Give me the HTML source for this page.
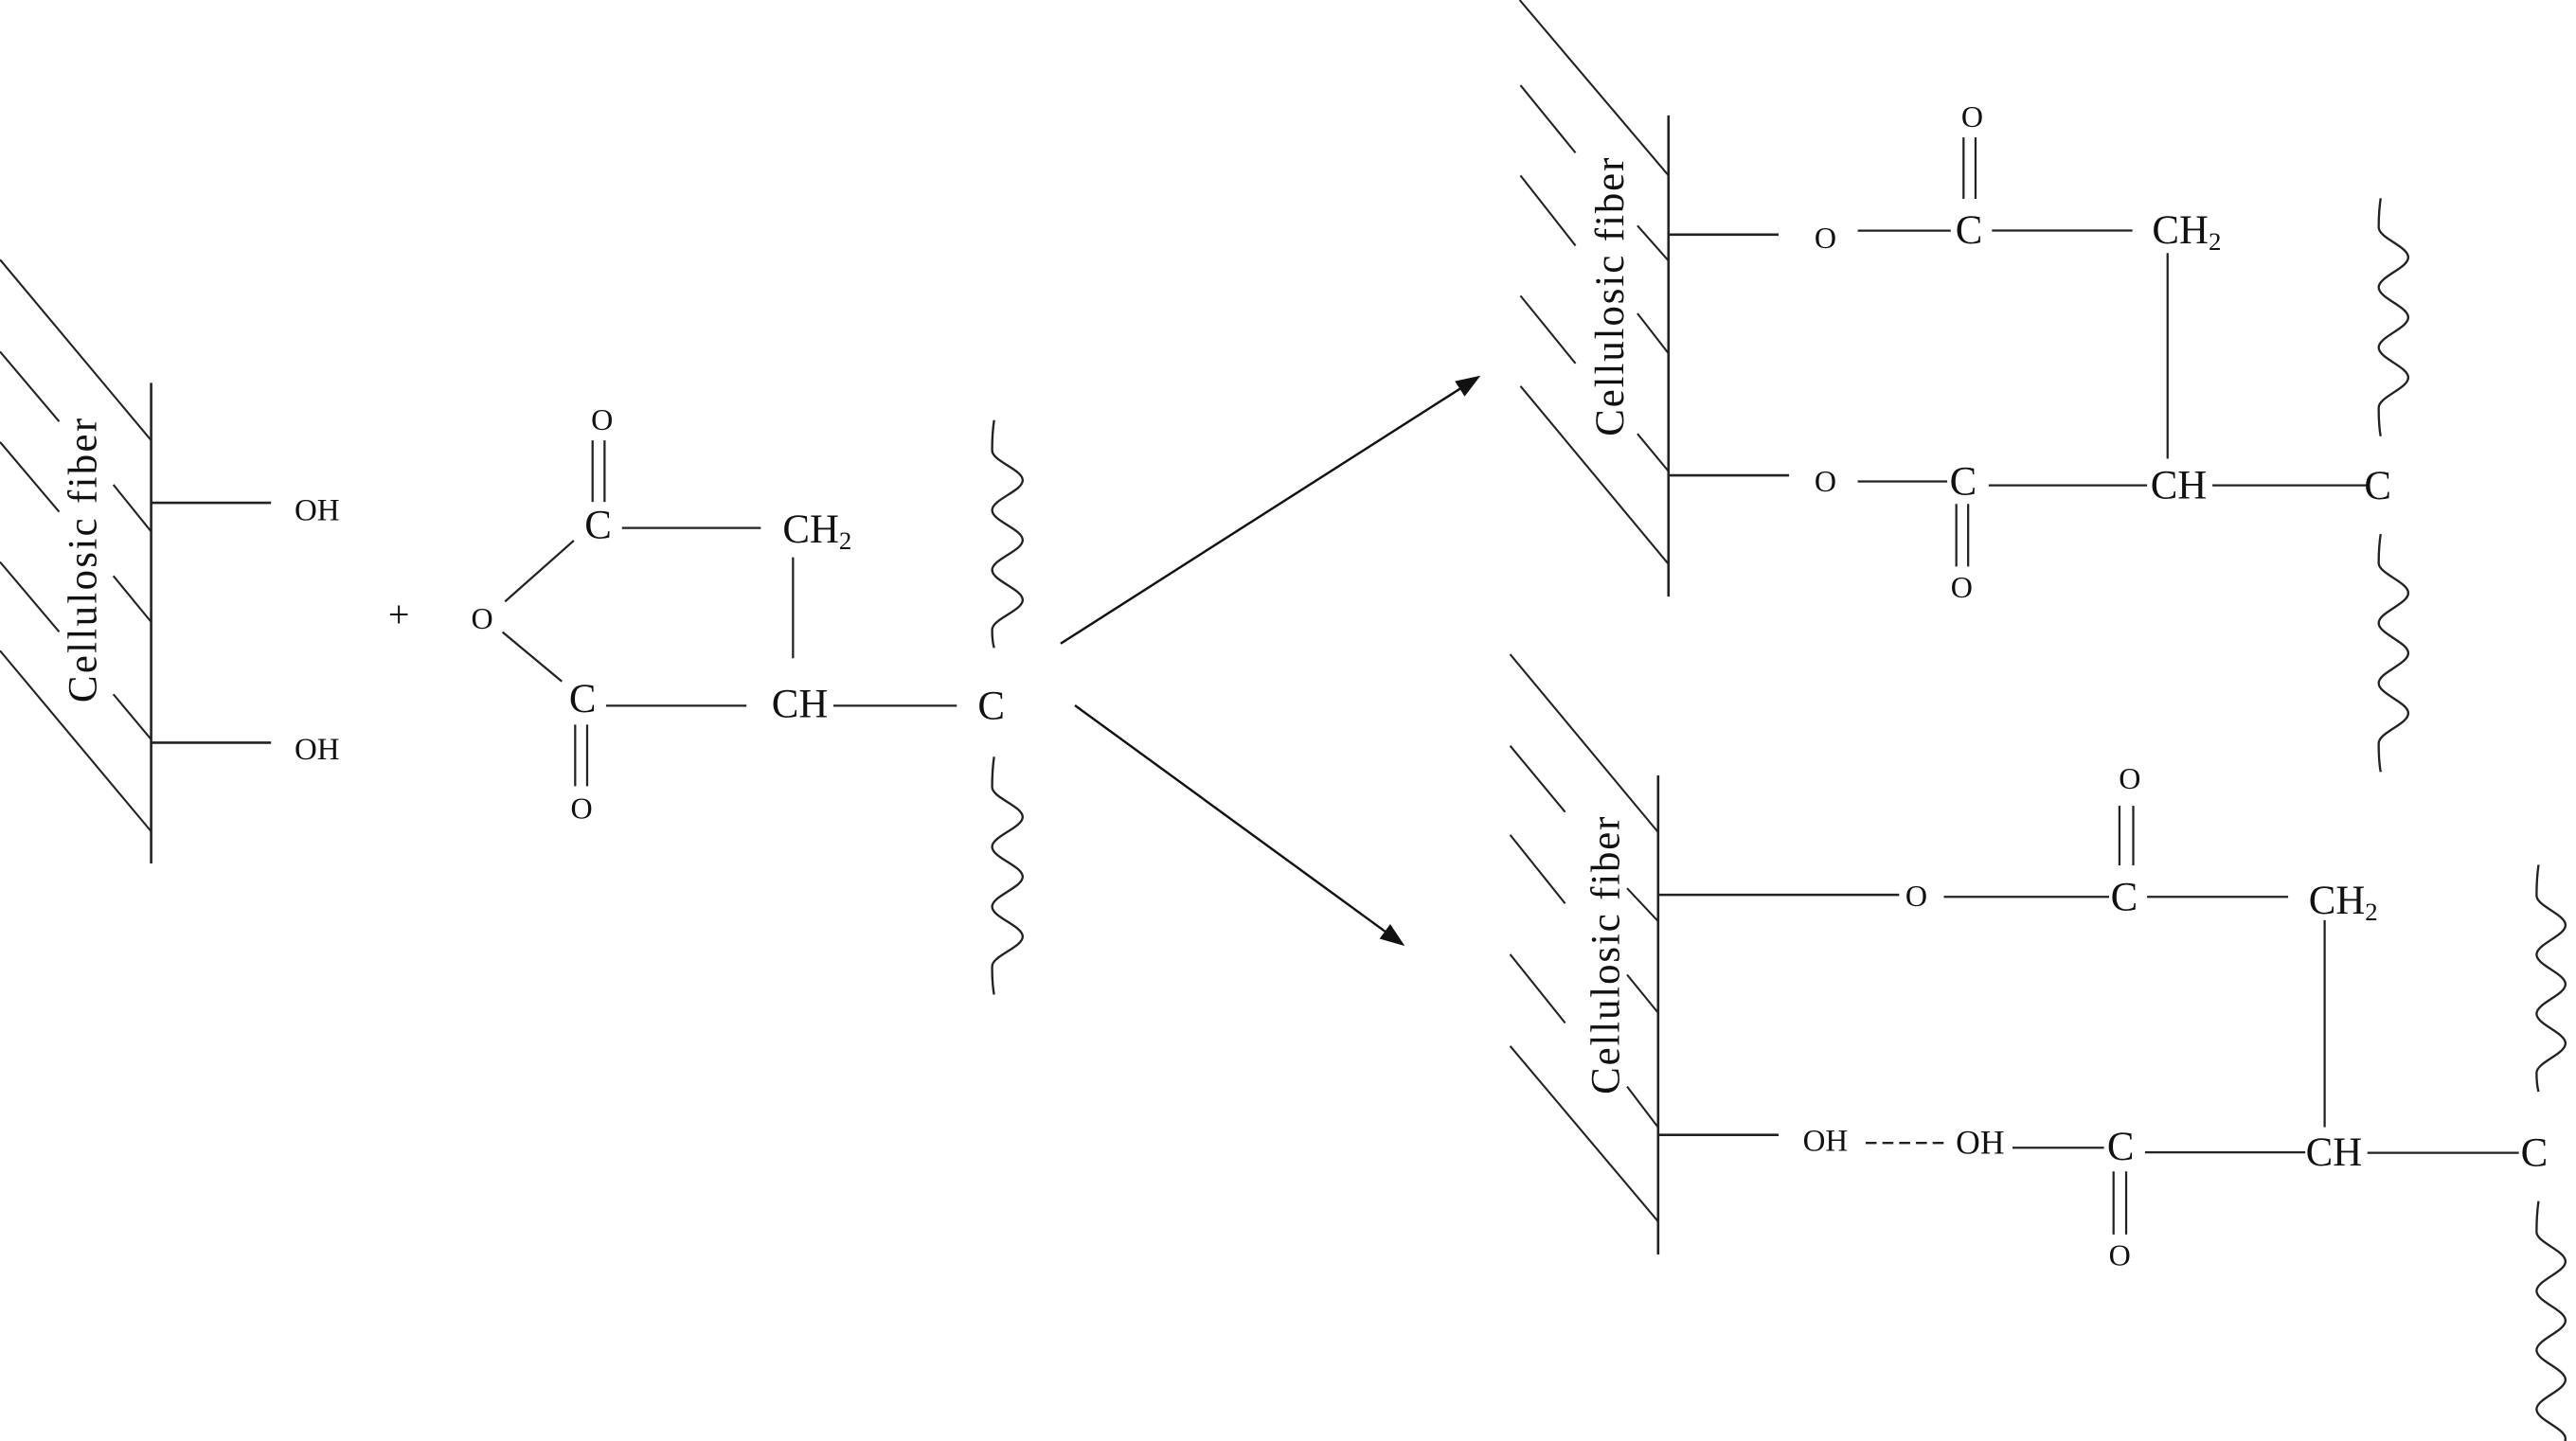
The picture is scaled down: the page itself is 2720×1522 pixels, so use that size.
<!DOCTYPE html>
<html>
<head>
<meta charset="utf-8">
<style>
  html, body { margin: 0; padding: 0; background: #ffffff; }
  body { width: 2720px; height: 1522px; overflow: hidden; }
  svg { display: block; }
  text { font-family: "Liberation Serif", "Times New Roman", serif; fill: #111; }
</style>
</head>
<body>
<svg width="2720" height="1522" viewBox="0 0 1568 877" preserveAspectRatio="none" xmlns="http://www.w3.org/2000/svg">
  <rect x="0" y="0" width="1568" height="877" fill="#ffffff"/>

  <!-- ================= LEFT: cellulosic fiber with OH ================= -->
  <g stroke="#222" stroke-width="1.2" fill="none" stroke-linecap="butt">
    <line x1="0" y1="158" x2="92" y2="268"/>
    <line x1="0" y1="214" x2="36" y2="256.5"/>
    <line x1="69" y1="295" x2="92" y2="323.5"/>
    <line x1="0" y1="269" x2="36" y2="311.5"/>
    <line x1="69" y1="350.5" x2="92" y2="378.5"/>
    <line x1="0" y1="342" x2="36" y2="384.5"/>
    <line x1="69" y1="422.5" x2="92" y2="450"/>
    <line x1="0" y1="396" x2="92" y2="506"/>
  </g>
  <g stroke="#222" stroke-width="1.5" fill="none">
    <line x1="92" y1="233" x2="92" y2="525.5"/>
    <line x1="92" y1="306" x2="165" y2="306"/>
    <line x1="92" y1="452" x2="165" y2="452"/>
  </g>
  <text transform="translate(58.6,427.6) rotate(-90)" font-size="24.7" textLength="173" lengthAdjust="spacing">Cellulosic fiber</text>
  <text x="193" y="316.6" font-size="19" text-anchor="middle">OH</text>
  <text x="193" y="462.2" font-size="19" text-anchor="middle">OH</text>

  <text x="242.8" y="381.7" font-size="23" text-anchor="middle">+</text>

  <!-- ================= Anhydride ================= -->
  <g stroke="#222" stroke-width="1.3" fill="none">
    <line x1="360.7" y1="268" x2="360.7" y2="305.5"/>
    <line x1="368" y1="268" x2="368" y2="305.5"/>
    <line x1="378.6" y1="321.3" x2="463.1" y2="321.3"/>
    <line x1="482.7" y1="339.2" x2="482.7" y2="400.6"/>
    <line x1="307.4" y1="366.1" x2="349.3" y2="329"/>
    <line x1="305.9" y1="384.7" x2="342" y2="414.7"/>
    <line x1="368.9" y1="429.5" x2="454.4" y2="429.5"/>
    <line x1="350.1" y1="441" x2="350.1" y2="478.5"/>
    <line x1="357.4" y1="441" x2="357.4" y2="478.5"/>
    <line x1="507.3" y1="429.5" x2="582.4" y2="429.5"/>
  </g>
  <text x="366.5" y="261.5" font-size="18.5" text-anchor="middle">O</text>
  <text x="364.1" y="327.6" font-size="24.7" text-anchor="middle">C</text>
  <text x="476.4" y="330.1" font-size="24.7">CH<tspan font-size="15.5" dy="4">2</tspan></text>
  <text x="293.5" y="382.7" font-size="18.5" text-anchor="middle">O</text>
  <text x="354.6" y="433.3" font-size="24.7" text-anchor="middle">C</text>
  <text x="354" y="498" font-size="18.5" text-anchor="middle">O</text>
  <text x="469.7" y="436.6" font-size="24.7">CH</text>
  <text x="603.4" y="437.7" font-size="24.7" text-anchor="middle">C</text>

  <g stroke="#222" stroke-width="1.35" fill="none">
    <path d="M605.1,255.7 c-0.8,5.5 -1.2,10 -1.2,18.4 c0,6.6 18.6,11.6 18.6,18.2 s-18.6,11.6 -18.6,18.2 s18.6,11.6 18.6,18.2 s-18.6,11.6 -18.6,18.2 s18.6,11.6 18.6,18.2 s-18.6,11.6 -18.6,18.2 c0,5 0.4,8.2 1.2,11"/>
    <path d="M605.1,460.6 c-0.8,5.5 -1.2,10 -1.2,18.4 c0,6.6 18.6,11.6 18.6,18.2 s-18.6,11.6 -18.6,18.2 s18.6,11.6 18.6,18.2 s-18.6,11.6 -18.6,18.2 s18.6,11.6 18.6,18.2 s-18.6,11.6 -18.6,18.2 c0,7.7 0.4,12.8 1.2,17.1"/>
  </g>

  <!-- ================= Arrows ================= -->
  <g stroke="#111" stroke-width="1.4" fill="none">
    <line x1="645.6" y1="391.7" x2="889.5" y2="236.1"/>
    <line x1="654.3" y1="429.3" x2="843.8" y2="567.4"/>
  </g>
  <polygon points="901.2,228.6 891.51,241.31 885.59,232.03" fill="#111"/>
  <polygon points="855.1,575.7 839.74,571.3 846.22,562.42" fill="#111"/>

  <!-- ================= TOP-RIGHT product ================= -->
  <g stroke="#222" stroke-width="1.2" fill="none">
    <line x1="925" y1="0" x2="1015.6" y2="106.8"/>
    <line x1="925.5" y1="51.9" x2="959" y2="93"/>
    <line x1="996.7" y1="137.3" x2="1015.6" y2="158.7"/>
    <line x1="925.5" y1="106.8" x2="959" y2="149.5"/>
    <line x1="996.7" y1="190.7" x2="1015.6" y2="215.1"/>
    <line x1="925.5" y1="180" x2="959" y2="221.2"/>
    <line x1="996.7" y1="264" x2="1015.6" y2="286.8"/>
    <line x1="925.5" y1="235" x2="1015.6" y2="343.3"/>
  </g>
  <g stroke="#222" stroke-width="1.5" fill="none">
    <line x1="1015.6" y1="70.2" x2="1015.6" y2="363.1"/>
    <line x1="1015.6" y1="142.8" x2="1082.6" y2="142.8"/>
    <line x1="1015.6" y1="289.3" x2="1089" y2="289.3"/>
  </g>
  <g stroke="#222" stroke-width="1.3" fill="none">
    <line x1="1130.8" y1="140.4" x2="1187.4" y2="140.4"/>
    <line x1="1195.2" y1="83.6" x2="1195.2" y2="121"/>
    <line x1="1202.5" y1="83.6" x2="1202.5" y2="121"/>
    <line x1="1212.5" y1="140.3" x2="1298" y2="140.3"/>
    <line x1="1319.4" y1="154" x2="1319.4" y2="279.2"/>
    <line x1="1130.8" y1="293" x2="1185.3" y2="293"/>
    <line x1="1190.8" y1="306.7" x2="1190.8" y2="344.8"/>
    <line x1="1198" y1="306.7" x2="1198" y2="344.8"/>
    <line x1="1210.5" y1="295.4" x2="1306.9" y2="295.4"/>
    <line x1="1346.7" y1="295.4" x2="1441" y2="295.4"/>
  </g>
  <text transform="translate(988,265.5) rotate(-90)" font-size="24.7" textLength="169.5" lengthAdjust="spacing">Cellulosic fiber</text>
  <text x="1111.1" y="151" font-size="18.5" text-anchor="middle">O</text>
  <text x="1198.5" y="148" font-size="24.7" text-anchor="middle">C</text>
  <text x="1200.5" y="77.2" font-size="18.5" text-anchor="middle">O</text>
  <text x="1310" y="148" font-size="24.7">CH<tspan font-size="15.5" dy="4">2</tspan></text>
  <text x="1111.1" y="299" font-size="18.5" text-anchor="middle">O</text>
  <text x="1195" y="301" font-size="24.7" text-anchor="middle">C</text>
  <text x="1194.1" y="363.7" font-size="18.5" text-anchor="middle">O</text>
  <text x="1309" y="303.5" font-size="24.7">CH</text>
  <text x="1447.3" y="303.6" font-size="24.7" text-anchor="middle">C</text>
  <g stroke="#222" stroke-width="1.35" fill="none">
    <path d="M1449.1,120.7 c-0.8,5.3 -1.2,9.7 -1.2,17.6 c0,6.64 18,11.66 18,18.3 s-18,11.66 -18,18.3 s18,11.66 18,18.3 s-18,11.66 -18,18.3 s18,11.66 18,18.3 s-18,11.66 -18,18.3 c0,7.8 0.4,13 1.2,17.4"/>
    <path d="M1449.1,325 c-0.8,5.3 -1.2,9.7 -1.2,17.6 c0,6.64 18,11.66 18,18.3 s-18,11.66 -18,18.3 s18,11.66 18,18.3 s-18,11.66 -18,18.3 s18,11.66 18,18.3 s-18,11.66 -18,18.3 c0,7.8 0.4,13 1.2,17.4"/>
  </g>

  <!-- ================= BOTTOM-RIGHT product ================= -->
  <g stroke="#222" stroke-width="1.2" fill="none">
    <line x1="919.2" y1="398.2" x2="1009.3" y2="506.5"/>
    <line x1="919.2" y1="453.9" x2="952.7" y2="494.2"/>
    <line x1="990.4" y1="540.6" x2="1009.3" y2="560.7"/>
    <line x1="919.2" y1="508.1" x2="952.7" y2="549.9"/>
    <line x1="990.4" y1="593.2" x2="1009.3" y2="616.4"/>
    <line x1="919.2" y1="580.8" x2="952.7" y2="622.6"/>
    <line x1="990.4" y1="661.3" x2="1009.3" y2="686.1"/>
    <line x1="919.2" y1="636.6" x2="1009.3" y2="743.4"/>
  </g>
  <g stroke="#222" stroke-width="1.5" fill="none">
    <line x1="1009.3" y1="471.9" x2="1009.3" y2="763.5"/>
    <line x1="1009.3" y1="544.6" x2="1156" y2="544.6"/>
    <line x1="1009.3" y1="690.7" x2="1082.6" y2="690.7"/>
  </g>
  <g stroke="#222" stroke-width="1.3" fill="none">
    <line x1="1183.2" y1="545.8" x2="1283.8" y2="545.8"/>
    <line x1="1290.1" y1="490.4" x2="1290.1" y2="526.7"/>
    <line x1="1298.5" y1="490.4" x2="1298.5" y2="526.7"/>
    <line x1="1306.9" y1="545.8" x2="1392.8" y2="545.8"/>
    <line x1="1415" y1="560" x2="1415" y2="686"/>
    <line x1="1135.6" y1="695.6" x2="1183.1" y2="695.6" stroke-dasharray="6.7 3.5"/>
    <line x1="1225" y1="698.5" x2="1280.7" y2="698.5"/>
    <line x1="1286.5" y1="712.9" x2="1286.5" y2="751.3"/>
    <line x1="1294.2" y1="712.9" x2="1294.2" y2="751.3"/>
    <line x1="1305.7" y1="701.3" x2="1403.2" y2="701.3"/>
    <line x1="1441" y1="701.6" x2="1533.2" y2="701.6"/>
  </g>
  <text transform="translate(985.5,666) rotate(-90)" font-size="24.7" textLength="169" lengthAdjust="spacing">Cellulosic fiber</text>
  <text x="1166.5" y="551.3" font-size="18.5" text-anchor="middle">O</text>
  <text x="1293" y="554" font-size="24.7" text-anchor="middle">C</text>
  <text x="1296.4" y="480" font-size="18.5" text-anchor="middle">O</text>
  <text x="1405.3" y="556" font-size="24.7">CH<tspan font-size="15.5" dy="4">2</tspan></text>
  <text x="1111.1" y="700.4" font-size="19" text-anchor="middle">OH</text>
  <text x="1205.3" y="702.1" font-size="20.5" text-anchor="middle">OH</text>
  <text x="1290.8" y="705.8" font-size="24.7" text-anchor="middle">C</text>
  <text x="1290.3" y="770" font-size="18.5" text-anchor="middle">O</text>
  <text x="1403.5" y="709.3" font-size="24.7">CH</text>
  <text x="1542.6" y="709.5" font-size="24.7" text-anchor="middle">C</text>
  <g stroke="#222" stroke-width="1.35" fill="none">
    <path d="M1545.2,526.3 c-0.8,5.6 -1.2,10.3 -1.2,18.7 c0,6.53 17.6,11.47 17.6,18 s-17.6,11.47 -17.6,18 s17.6,11.47 17.6,18 s-17.6,11.47 -17.6,18 s17.6,11.47 17.6,18 s-17.6,11.47 -17.6,18 c0,5.1 0.4,8.5 1.2,11.4"/>
    <path d="M1545.2,731 c-0.8,5.6 -1.2,10.3 -1.2,18.7 c0,6.53 17.6,11.47 17.6,18 s-17.6,11.47 -17.6,18 s17.6,11.47 17.6,18 s-17.6,11.47 -17.6,18 s17.6,11.47 17.6,18 s-17.6,11.47 -17.6,18 s17.6,11.47 17.6,18 s-17.6,11.47 -17.6,18 s17.6,11.47 17.6,18"/>
  </g>
</svg>
</body>
</html>
